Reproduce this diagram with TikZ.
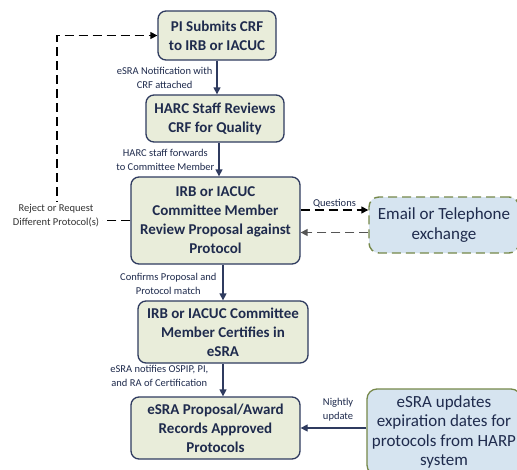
\documentclass[tikz,border=0pt]{standalone}
\usepackage{fontspec}
\setmainfont{Carlito}
\definecolor{harcnavy}{RGB}{47, 59, 95}
\definecolor{harctext}{RGB}{31, 43, 77}
\definecolor{harcgreen}{RGB}{233, 237, 218}
\definecolor{harcblue}{RGB}{214, 228, 240}
\definecolor{harcolive}{RGB}{118, 136, 74}
\definecolor{harcgrey}{RGB}{85, 85, 85}
\usepackage{tikz}
\usetikzlibrary{shapes, arrows.meta, positioning, calc}

\tikzset{
  stepbox/.style={draw=harcnavy, fill=harcgreen, line width=1.3pt, rounded corners=8pt,
    align=center, inner sep=2pt, text=harctext, font=\fontsize{15}{19}\selectfont\bfseries},
  sidebox/.style={draw=harcolive, fill=harcblue, line width=1.3pt, rounded corners=10pt,
    align=center, inner sep=2pt, text=harctext, font=\fontsize{17}{19.5}\selectfont},
  flow/.style={draw=harcnavy, line width=1.3pt, -{Triangle[length=7pt, width=7pt]}},
  note/.style={text=harctext, align=center, inner sep=2pt, font=\fontsize{10.5}{14}\selectfont},
  dashy/.style={line width=1.4pt, dash pattern=on 9pt off 5pt}
}

\begin{document}
\begin{tikzpicture}[x=1pt, y=-1pt]
  \clip (0,0) rectangle (517,469);
  \fill[white] (0,0) rectangle (517,469);

  % main steps
  \node[stepbox, minimum width=118pt, minimum height=49pt] (submit) at (217,35.5) {PI Submits CRF\\to IRB or IACUC};
  \node[stepbox, minimum width=138pt, minimum height=47pt] (harc) at (215,118.5) {HARC Staff Reviews\\CRF for Quality};
  \node[stepbox, minimum width=169pt, minimum height=87pt] (review) at (215.5,220.5) {IRB or IACUC\\Committee Member\\Review Proposal against\\Protocol};
  \node[stepbox, minimum width=170pt, minimum height=62pt] (certify) at (223,332) {IRB or IACUC Committee\\Member Certifies in\\eSRA};
  \node[stepbox, minimum width=169pt, minimum height=62pt] (records) at (215.5,428) {eSRA Proposal/Award\\Records Approved\\Protocols};

  % side boxes
  \node[sidebox, dashy, minimum width=150pt, minimum height=56pt] (email) at (444,225) {Email or Telephone\\exchange};
  \node[sidebox, minimum width=154pt, minimum height=86pt] (harp) at (444,432) {eSRA updates\\expiration dates for\\protocols from HARP\\system};

  % flow down
  \draw[flow] (submit.south) -- node[note, left, xshift=-2pt] {eSRA Notification with\\CRF attached} (submit.south |- harc.north);
  \draw[flow] ([xshift=4pt]harc.south) -- node[note, left, xshift=-2pt] {HARC staff forwards\\to Committee Member} ([xshift=4pt]harc.south |- review.north);
  \draw[flow] (certify.north |- review.south) -- node[note, left, xshift=-4pt, yshift=-1pt] {Confirms Proposal and\\Protocol match} (certify.north);
  \draw[flow] (certify.south) -- node[note, left, xshift=-12pt, yshift=4pt] {eSRA notifies OSPIP, PI,\\and RA of Certification} (certify.south |- records.north);
  \draw[flow] (harp.west |- records.east) -- node[note, above, pos=0.43, align=left, yshift=4pt] {Nightly\\update} (records.east);

  % questions to and from the committee member
  \draw[dashy, -{Triangle[length=7pt, width=7pt]}] ([yshift=10.5pt]review.east) -- node[note, above, yshift=-1pt] {Questions} ([yshift=10.5pt]review.east -| email.west);
  \draw[dashy, harcgrey, -{Triangle[length=7pt, width=7pt]}] ([yshift=-12pt]review.east -| email.west) -- ([yshift=-12pt]review.east);

  % reject loop
  \coordinate (rejcorner) at (57,220.5);
  \draw[dashy, -{Triangle[length=7pt, width=7pt]}] (review.west) -- (rejcorner) -- (rejcorner |- submit.west) -- (submit.west);
  \node[note, fill=white, inner sep=3pt, text=black!80] (reject) at (56,216) {Reject or Request\\Different Protocol(s)};
\end{tikzpicture}
\end{document}
